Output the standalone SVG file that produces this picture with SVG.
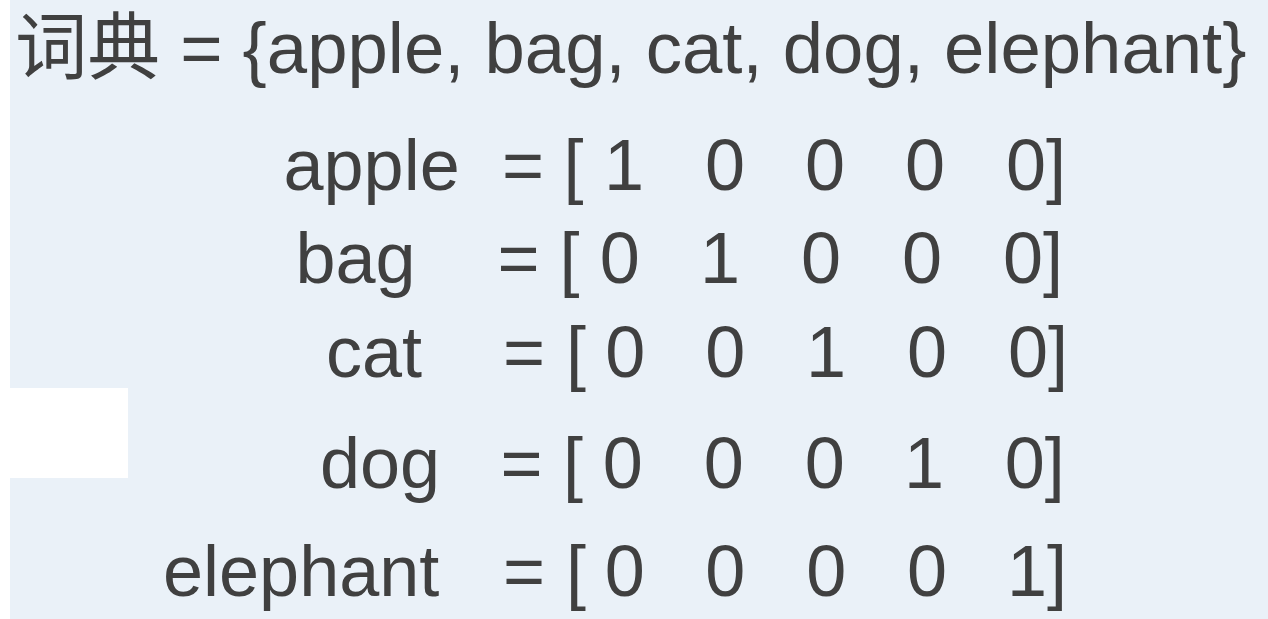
<svg xmlns="http://www.w3.org/2000/svg" width="1268" height="619" viewBox="0 0 1268 619">
<style>
.t{font-family:"Liberation Sans","Noto Sans CJK SC",Arial,sans-serif;font-size:72px;fill:#404040}
.h{font-size:72.5px}
</style>
<rect x="0" y="0" width="1268" height="619" fill="#ffffff"/>
<rect id="bg" x="10" y="0" width="1258" height="619" fill="#EAF1F8"/>
<rect id="blank" x="10" y="388" width="118" height="90" fill="#ffffff"/>
<g id="title"><text class="t h" x="15" y="73">词典 = {apple, bag, cat, dog, elephant}</text></g>
<g id="row-apple"><text class="t" y="190"><tspan x="283.5">apple</tspan><tspan x="502">=</tspan><tspan x="563.5">[</tspan><tspan x="604">1</tspan><tspan x="705">0</tspan><tspan x="805">0</tspan><tspan x="905">0</tspan><tspan x="1006">0]</tspan></text></g>
<g id="row-bag"><text class="t" y="283"><tspan x="295.5">bag</tspan><tspan x="497.5">=</tspan><tspan x="559.5">[</tspan><tspan x="599.7">0</tspan><tspan x="700">1</tspan><tspan x="801">0</tspan><tspan x="902">0</tspan><tspan x="1003">0]</tspan></text></g>
<g id="row-cat"><text class="t" y="377"><tspan x="326">cat</tspan><tspan x="503">=</tspan><tspan x="566">[</tspan><tspan x="605.3">0</tspan><tspan x="705.3">0</tspan><tspan x="806">1</tspan><tspan x="907">0</tspan><tspan x="1008">0]</tspan></text></g>
<g id="row-dog"><text class="t" y="488"><tspan x="320">dog</tspan><tspan x="500.5">=</tspan><tspan x="563">[</tspan><tspan x="602.7">0</tspan><tspan x="703.7">0</tspan><tspan x="804.7">0</tspan><tspan x="904">1</tspan><tspan x="1004.7">0]</tspan></text></g>
<g id="row-elephant"><text class="t" y="595.5"><tspan x="163">elephant</tspan><tspan x="503">=</tspan><tspan x="566">[</tspan><tspan x="604.7">0</tspan><tspan x="705.3">0</tspan><tspan x="806.3">0</tspan><tspan x="907">0</tspan><tspan x="1007">1]</tspan></text></g>
<g id="connectors"/>
</svg>
